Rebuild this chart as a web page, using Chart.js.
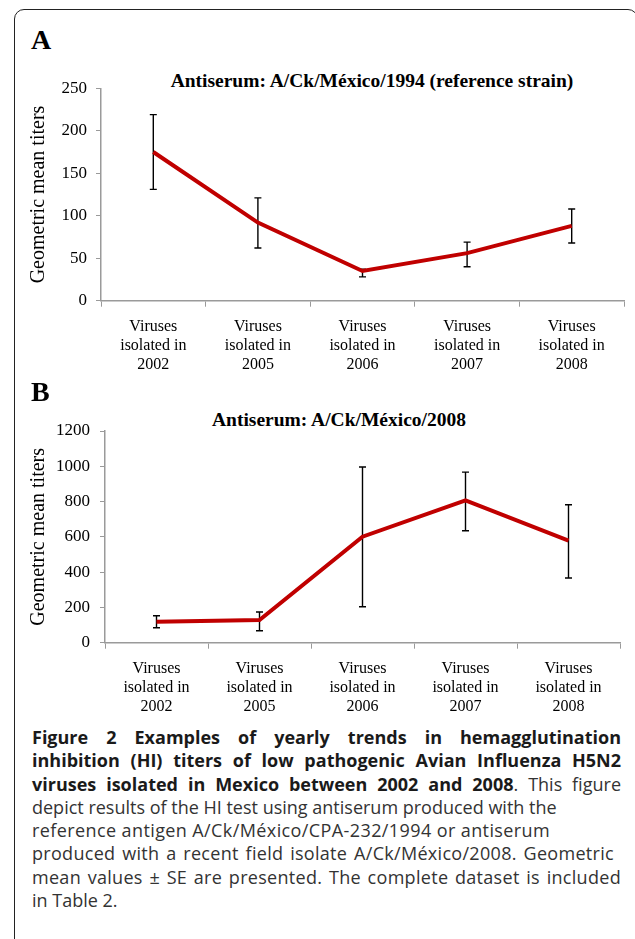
<!DOCTYPE html>
<html>
<head>
<meta charset="utf-8">
<script src="https://cdn.jsdelivr.net/npm/chart.js@4.4.0/dist/chart.umd.min.js"></script>
<style>
  html, body { margin: 0; padding: 0; background: #fff; width: 635px; height: 939px; overflow: hidden; }
  #frame { position: absolute; left: 14px; top: 9px; width: 624px; height: 1000px; border: 1.5px solid #222; border-radius: 10px; box-sizing: border-box; }
  canvas { position: absolute; left: 0; }
  .serif { font-family: 'Liberation Serif', 'Times New Roman', serif; position: absolute; color: #000; white-space: nowrap; }
  .letter { font-weight: bold; font-size: 28px; line-height: 1; }
  .ctitle { font-weight: bold; font-size: 19.5px; line-height: 1; transform: translateX(-50%); }
  #caption { position: absolute; left: 32px; top: 726px; width: 589px; font-family: 'Open Sans', sans-serif; font-size: 18px; line-height: 23.3px; color: #333; }
  #caption div { white-space: nowrap; }
  #caption .j { text-align: justify; text-align-last: justify; }
  #caption b { color: #1a1a1a; font-weight: bold; }
</style>
</head>
<body>
<div id="frame"></div>
<div class="serif letter" style="left:31px; top:26px;">A</div>
<div class="serif ctitle" style="left:372px; top:71px;">Antiserum: A/Ck/México/1994 (reference strain)</div>
<canvas id="chartA" width="635" height="320" style="top:60px; width:635px; height:320px;"></canvas>
<div class="serif letter" style="left:31px; top:378px;">B</div>
<div class="serif ctitle" style="left:339px; top:410px;">Antiserum: A/Ck/México/2008</div>
<canvas id="chartB" width="635" height="320" style="top:400px; width:635px; height:320px;"></canvas>
<div id="caption">
  <div class="j"><b>Figure 2 Examples of yearly trends in hemagglutination</b></div>
  <div class="j"><b>inhibition (HI) titers of low pathogenic Avian Influenza H5N2</b></div>
  <div class="j"><b>viruses isolated in Mexico between 2002 and 2008</b>. This figure</div>
  <div>depict results of the HI test using antiserum produced with the</div>
  <div class="j" style="width:518px; letter-spacing:0.4px;">reference antigen A/Ck/México/CPA-232/1994 or antiserum</div>
  <div class="j" style="width:582px; letter-spacing:0.3px;">produced with a recent field isolate A/Ck/México/2008. Geometric</div>
  <div class="j" style="letter-spacing:0.3px;">mean values ± SE are presented. The complete dataset is included</div>
  <div>in Table 2.</div>
</div>
<script>
// ---- Data ----
const years = ["2002", "2005", "2006", "2007", "2008"];
const categoryLabels = years.map(y => ["Viruses", "isolated in", y]);

const meanA = [175, 92, 35, 56, 88];
const lowA  = [131, 62, 28, 40, 68];
const highA = [219, 121, 37, 69, 108];
const ticksA = [0, 50, 100, 150, 200, 250];

const meanB = [119, 129, 601, 807, 579];
const lowB  = [85, 68, 204, 635, 367];
const highB = [153, 174, 996, 967, 782];
const ticksB = [0, 200, 400, 600, 800, 1000, 1200];

const yTitle = "Geometric mean titers";

// ---- Error bar plugin (uses chart scales) ----
const errorBarPlugin = {
  id: 'errorBars',
  beforeDatasetsDraw(chart, args, opts) {
    const meta = chart.getDatasetMeta(0);
    const ys = chart.scales.y;
    const ctx = chart.ctx;
    ctx.save();
    ctx.strokeStyle = '#000';
    ctx.lineWidth = 1.4;
    const cap = 3.5;
    meta.data.forEach((pt, i) => {
      const x = pt.x;
      const y1 = ys.getPixelForValue(opts.low[i]);
      const y2 = ys.getPixelForValue(opts.high[i]);
      ctx.beginPath();
      ctx.moveTo(x, y1); ctx.lineTo(x, y2);
      ctx.moveTo(x - cap, y1); ctx.lineTo(x + cap, y1);
      ctx.moveTo(x - cap, y2); ctx.lineTo(x + cap, y2);
      ctx.stroke();
    });
    ctx.restore();
  }
};

Chart.defaults.font.family = "'Liberation Serif', 'Times New Roman', serif";
Chart.defaults.color = '#000';

function makeChart(id, values, low, high, tickVals, geom) {
  return new Chart(document.getElementById(id), {
    type: 'line',
    data: {
      labels: categoryLabels,
      datasets: [{
        data: values,
        borderColor: '#C00000',
        borderWidth: 4,
        pointRadius: 0,
        tension: 0,
        fill: false
      }]
    },
    plugins: [errorBarPlugin],
    options: {
      responsive: false,
      animation: false,
      devicePixelRatio: window.devicePixelRatio || 1,
      layout: { padding: { left: 0, right: geom.padRight, top: geom.padTop, bottom: 0 } },
      plugins: {
        legend: { display: false },
        tooltip: { enabled: false },
        title: { display: false },
        errorBars: { low: low, high: high }
      },
      scales: {
        x: {
          type: 'category',
          offset: true,
          grid: { offset: true, drawOnChartArea: false, drawTicks: true, tickLength: 6, color: '#9a9a9a', lineWidth: 1 },
          border: { display: true, color: '#9a9a9a', width: 1.5 },
          ticks: { font: { size: 16 }, padding: 10, maxRotation: 0, autoSkip: false, color: '#000' },
          afterFit(scale) { scale.height = geom.xHeight; }
        },
        y: {
          min: tickVals[0],
          max: tickVals[tickVals.length - 1],
          afterBuildTicks(scale) { scale.ticks = tickVals.map(v => ({ value: v })); },
          grid: { drawOnChartArea: false, drawTicks: true, tickLength: 5, color: '#9a9a9a', lineWidth: 1 },
          border: { display: true, color: '#9a9a9a', width: 1.5 },
          ticks: { font: { size: 17 }, padding: geom.tickPad, color: '#000', callback: v => String(v) },
          title: { display: true, text: yTitle, font: { size: 20 }, padding: { top: 26.5, bottom: 0 }, color: '#000' },
          afterFit(scale) { scale.width = geom.yWidth; }
        }
      }
    }
  });
}

makeChart('chartA', meanA, lowA, highA, ticksA, { padTop: 28.3, padRight: 11, xHeight: 79.3, yWidth: 101, tickPad: 9 });
makeChart('chartB', meanB, lowB, highB, ticksB, { padTop: 31, padRight: 15, xHeight: 77.3, yWidth: 105, tickPad: 10 });
</script>
</body>
</html>
